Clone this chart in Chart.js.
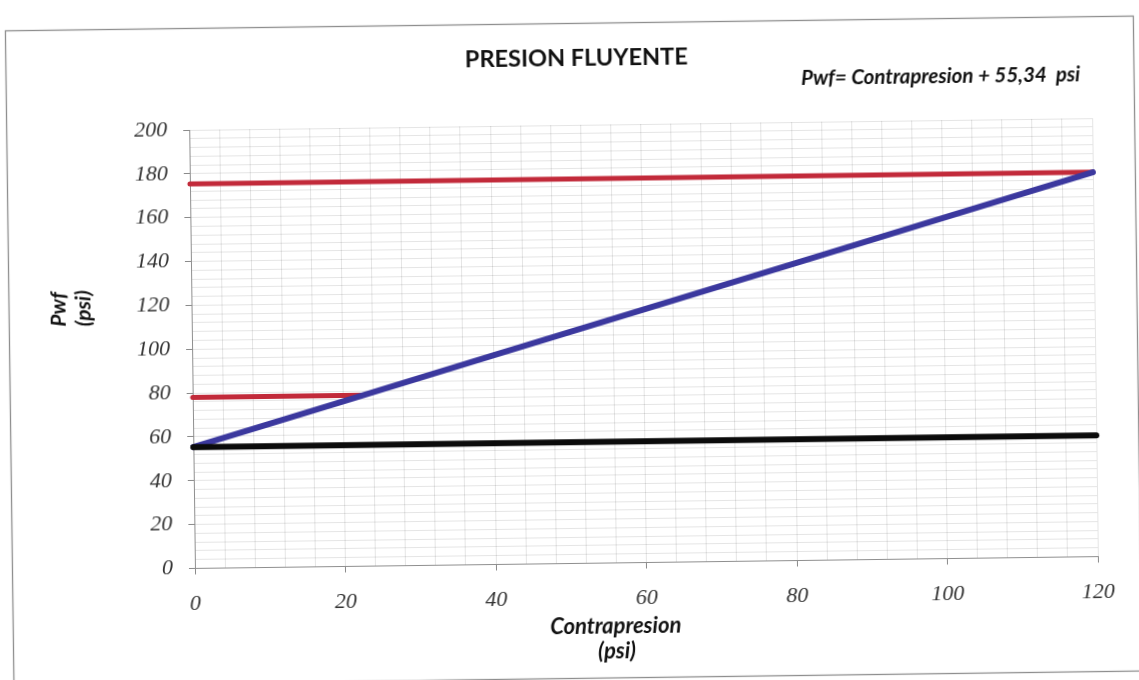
<!DOCTYPE html>
<html>
<head>
<meta charset="utf-8">
<script src="https://cdn.jsdelivr.net/npm/chart.js@4.4.1/dist/chart.umd.min.js"></script>
<style>
  html, body { margin: 0; padding: 0; background: #fff; overflow: hidden; }
  #hoja { width: 1139px; height: 680px; transform: rotate(-0.75deg); transform-origin: 50% 50%; }
  canvas { display: block; }
</style>
</head>
<body>
<div id="hoja"><canvas id="grafico" width="1139" height="680"></canvas></div>
<script>
// Recta de presion fluyente: Pwf = Contrapresion + 55,34 psi
const contrapresion = [0, 20, 40, 60, 80, 100, 120];
const pwf = [55.34, 75.34, 95.34, 115.34, 135.34, 155.34, 175.34];

// Limite superior (Pwf maxima)
const limiteSupX = [0, 120];
const limiteSupY = [175.34, 175.34];

// Limite de Pwf = 78 psi hasta cortar la recta
const limiteInfX = [0, 22.66];
const limiteInfY = [78, 78];

// Pwf minima (contrapresion nula)
const pwfMinX = [0, 120];
const pwfMinY = [55.34, 55.34];

// Etiquetas de los ejes
const xTickLabels = [0, 20, 40, 60, 80, 100, 120];
const yTickLabels = [0, 20, 40, 60, 80, 100, 120, 140, 160, 180, 200];

const puntos = (xs, ys) => xs.map((x, i) => ({ x: x, y: ys[i] }));

const fuenteTicks = { family: "'Liberation Serif', serif", style: 'italic', size: 22 };

const textos = {
  id: 'textos',
  beforeDraw(chart) {
    const ctx = chart.ctx;
    ctx.save();
    ctx.fillStyle = '#fff';
    ctx.fillRect(0, 0, chart.width, chart.height);
    ctx.strokeStyle = '#8e8e8e';
    ctx.lineWidth = 1.3;
    ctx.strokeRect(9.5, 23.5, 1128, 655);
    ctx.restore();
  },
  afterDraw(chart) {
    const ctx = chart.ctx;
    ctx.save();
    ctx.fillStyle = '#111';
    ctx.textAlign = 'center';
    ctx.textBaseline = 'middle';
    ctx.font = "bold 23.5px Lato";
    ctx.fillText('PRESION FLUYENTE', 580, 58);
    ctx.font = "italic bold 20.5px Lato";
    ctx.fillText('Pwf= Contrapresion + 55,34  psi', 944, 81);
    ctx.font = "italic bold 22px Lato";
    ctx.fillText('Contrapresion', 612, 627);
    ctx.fillText('(psi)', 613, 652);
    ctx.font = "italic bold 21px Lato";
    ctx.translate(59, 320);
    ctx.rotate(-Math.PI / 2);
    ctx.textAlign = 'left';
    ctx.fillText('Pwf', 0, 0);
    ctx.fillText('(psi)', 0, 25);
    ctx.restore();
  }
};

const marcaMayor = (ctx, step) =>
  (ctx.tick && Math.abs(ctx.tick.value % step) < 1e-6) ? '#8a8a8a' : 'rgba(0,0,0,0)';

new Chart(document.getElementById('grafico'), {
  type: 'scatter',
  data: {
    datasets: [
      {
        label: 'Pwf minima',
        data: puntos(pwfMinX, pwfMinY),
        showLine: true, borderColor: '#0b0b0b', borderWidth: 6,
        borderCapStyle: 'round', pointRadius: 0, clip: false, order: 1
      },
      {
        label: 'Pwf',
        data: puntos(contrapresion, pwf),
        showLine: true, borderColor: '#3b389e', borderWidth: 6,
        borderCapStyle: 'round', pointRadius: 0, clip: false, order: 2
      },
      {
        label: 'Limite superior',
        data: puntos(limiteSupX, limiteSupY),
        showLine: true, borderColor: '#c22a3a', borderWidth: 5,
        borderCapStyle: 'round', pointRadius: 0, clip: false, order: 3
      },
      {
        label: 'Limite 78 psi',
        data: puntos(limiteInfX, limiteInfY),
        showLine: true, borderColor: '#c22a3a', borderWidth: 5,
        borderCapStyle: 'round', pointRadius: 0, clip: false, order: 3
      }
    ]
  },
  options: {
    responsive: false,
    animation: false,
    devicePixelRatio: 1,
    layout: { padding: { left: 0, top: 125, right: 44, bottom: 0 } },
    plugins: { legend: { display: false }, tooltip: { enabled: false }, title: { display: false } },
    scales: {
      x: {
        type: 'linear', min: 0, max: 120,
        afterFit: s => { s.height = 116.5; },
        border: { color: '#8f8f8f', width: 1 },
        grid: { color: 'rgba(0,0,0,0.10)', lineWidth: 1, tickLength: 6, tickColor: c => marcaMayor(c, 20) },
        ticks: {
          stepSize: 4, autoSkip: false, maxRotation: 0, padding: 17,
          color: '#333', font: fuenteTicks,
          callback: v => xTickLabels.includes(v) ? String(v) : ''
        }
      },
      y: {
        type: 'linear', min: 0, max: 200,
        afterFit: s => { s.width = 192; },
        border: { color: '#8f8f8f', width: 1 },
        grid: { color: 'rgba(0,0,0,0.10)', lineWidth: 1, tickLength: 6, tickColor: c => marcaMayor(c, 20) },
        ticks: {
          stepSize: 4, autoSkip: false, padding: 16,
          color: '#333', font: fuenteTicks,
          callback: v => yTickLabels.includes(v) ? String(v) : ''
        }
      }
    }
  },
  plugins: [textos]
});
</script>
</body>
</html>
